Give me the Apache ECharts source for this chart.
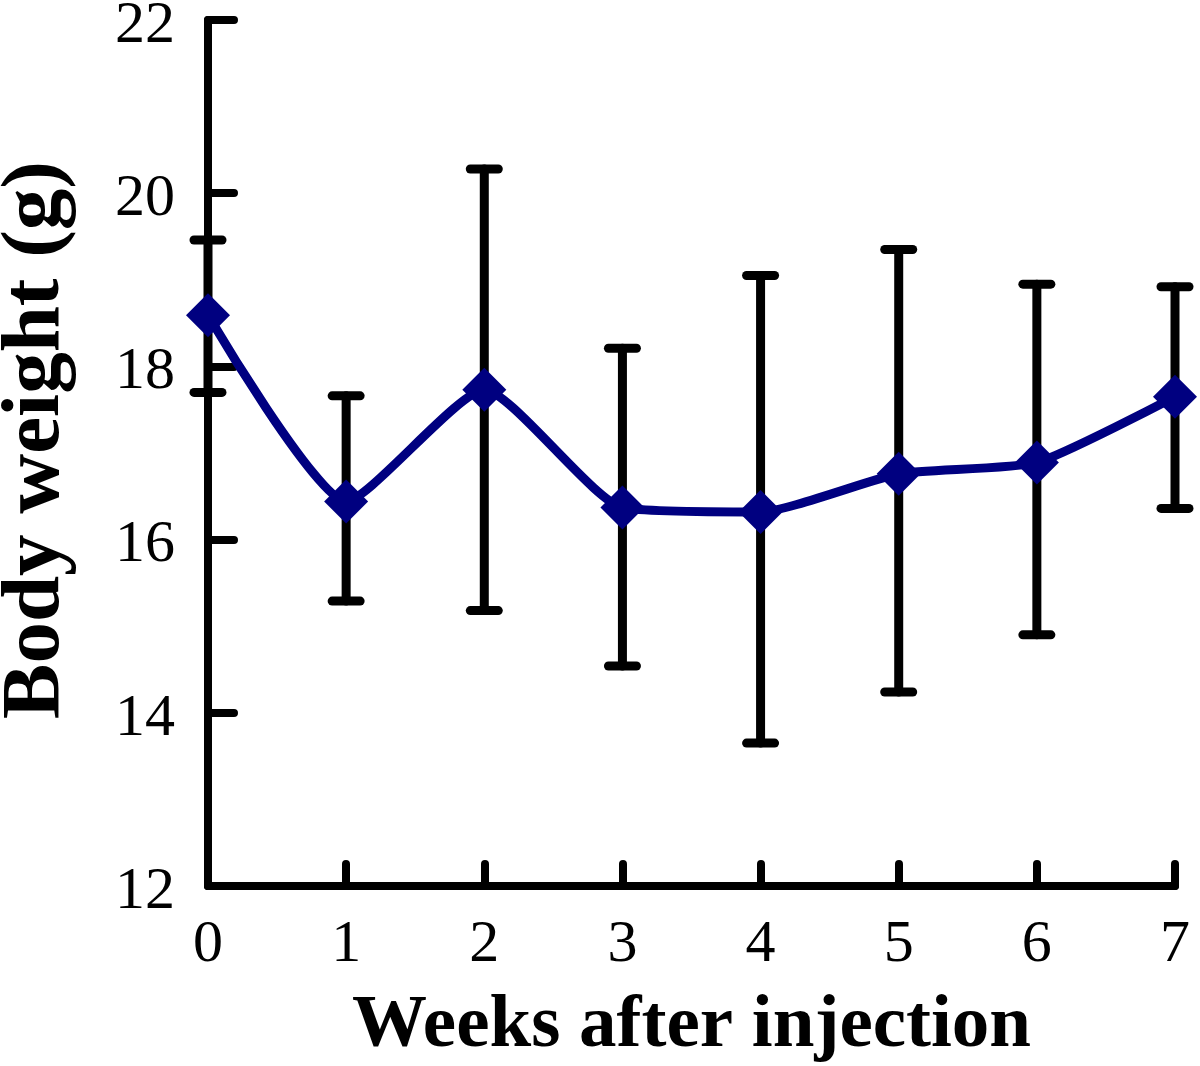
<!DOCTYPE html>
<html>
<head>
<meta charset="utf-8">
<script src="https://cdn.jsdelivr.net/npm/echarts@6/dist/echarts.min.js"></script>
<style>html,body{margin:0;padding:0;background:#fff}#c{width:1200px;height:1066px}</style>
</head>
<body>
<div id="c"></div>
<script>
const weeks = ['0','1','2','3','4','5','6','7'];
const meanWeight = [18.59, 16.44, 17.73, 16.37, 16.32, 16.76, 16.89, 17.65];
const upperBar = [19.46, 17.66, 20.28, 18.21, 19.05, 19.35, 18.95, 18.92];
const lowerBar = [17.70, 15.29, 15.18, 14.54, 13.65, 14.24, 14.90, 16.36];
const yTicks = [12, 14, 16, 18, 20, 22];

const chart = echarts.init(document.getElementById('c'));
const serif = '"Liberation Serif", "DejaVu Serif", serif';
chart.setOption({
  animation: false,
  backgroundColor: '#fff',
  grid: { left: 208, right: 25, top: 20, bottom: 180, containLabel: false, outerBoundsMode: 'none' },
  xAxis: {
    type: 'category',
    data: weeks,
    boundaryGap: false,
    name: 'Weeks after injection',
    nameLocation: 'middle',
    nameGap: 103,
    nameTextStyle: { fontFamily: serif, fontWeight: 'bold', fontSize: 75, color: '#000' },
    axisLine: { lineStyle: { color: '#000', width: 8 } },
    axisTick: { inside: true, length: 22, lineStyle: { color: '#000', width: 8, cap: 'round' } },
    axisLabel: { fontFamily: serif, fontSize: 60, color: '#000', margin: 29 }
  },
  yAxis: {
    type: 'value',
    min: yTicks[0],
    max: yTicks[yTicks.length - 1],
    interval: 2,
    name: '{t|Body weight (g)}',
    nameLocation: 'middle',
    nameGap: 130,
    nameTextStyle: {
      fontFamily: serif, fontWeight: 'bold', fontSize: 83, color: '#000',
      rich: { t: { fontFamily: serif, fontWeight: 'bold', fontSize: 83, color: '#000', padding: [0, 0, 0, 26] } }
    },
    splitLine: { show: false },
    axisLine: { show: true, lineStyle: { color: '#000', width: 8 } },
    axisTick: { show: true, inside: true, length: 26, lineStyle: { color: '#000', width: 8, cap: 'round' } },
    axisLabel: {
      fontFamily: serif, fontSize: 60, color: '#000', margin: 33,
      formatter: '{v|{value}}',
      rich: { v: { fontFamily: serif, fontSize: 60, color: '#000', padding: [12, 0, 0, 0] } }
    }
  },
  series: [
    {
      type: 'custom',
      z: 1,
      data: weeks.map((w, i) => [i, upperBar[i], lowerBar[i]]),
      renderItem: function (params, api) {
        const x = api.value(0);
        const top = api.coord([x, api.value(1)]);
        const bot = api.coord([x, api.value(2)]);
        const hw = 14;
        const style = { stroke: '#000', lineWidth: 9, lineCap: 'round' };
        return {
          type: 'group',
          children: [
            { type: 'line', shape: { x1: top[0], y1: top[1], x2: bot[0], y2: bot[1] }, style: style },
            { type: 'line', shape: { x1: top[0] - hw, y1: top[1], x2: top[0] + hw, y2: top[1] }, style: style },
            { type: 'line', shape: { x1: bot[0] - hw, y1: bot[1], x2: bot[0] + hw, y2: bot[1] }, style: style }
          ]
        };
      }
    },
    {
      type: 'line',
      z: 5,
      data: meanWeight,
      smooth: 0.18,
      symbol: 'diamond',
      symbolSize: [44, 44],
      itemStyle: { color: '#000080' },
      lineStyle: { color: '#000080', width: 9 }
    }
  ]
});
</script>
</body>
</html>
